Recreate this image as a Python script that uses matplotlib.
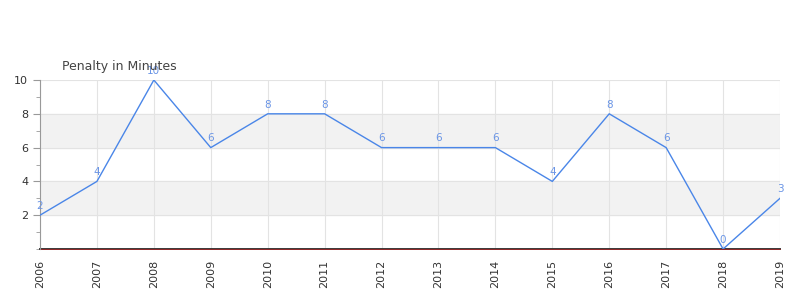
import numpy as np
import matplotlib.pyplot as plt
from matplotlib.ticker import MultipleLocator

years = [2006, 2007, 2008, 2009, 2010, 2011, 2012, 2013, 2014, 2015, 2016, 2017, 2018, 2019]
penalty = [2, 4, 10, 6, 8, 8, 6, 6, 6, 4, 8, 6, 0, 3]

line_col = '#4a86e8'
fig = plt.figure(figsize=(8, 3), dpi=100)
ax = fig.add_axes([0.05, 0.17, 0.925, 0.5633])

# alternating bands
for lo in (2, 6):
    ax.axhspan(lo, lo + 2, color='#f2f2f2', zorder=0)

ax.plot(years, penalty, color=line_col, lw=1, zorder=3)
for x, y in zip(years, penalty):
    ax.annotate(str(y), (x, y), xytext=(0, 3), textcoords='offset points',
                ha='center', va='bottom', fontsize=7.5, color='#6a95e6', zorder=4)

ax.set_xlim(years[0], years[-1])
ax.set_ylim(0, 10)
ax.set_xticks(years)
ax.set_xticklabels([str(y) for y in years], rotation=90, fontsize=8, color='#333333')
ax.set_yticks([2, 4, 6, 8, 10])
ax.yaxis.set_minor_locator(MultipleLocator(1))
ax.tick_params(axis='y', labelsize=8, colors='#333333', length=5, color='#999999')
ax.tick_params(axis='y', which='minor', length=3, color='#999999')
ax.tick_params(axis='x', length=0, pad=8)
ax.grid(True, color='#e3e3e3', lw=0.8, zorder=1)
ax.set_axisbelow(True)

for s in ('top', 'right'):
    ax.spines[s].set_visible(False)
ax.spines['left'].set_color('#999999')
ax.spines['bottom'].set_visible(False)
ax.axhline(0, color='#3a3a3a', lw=1.4, zorder=2, clip_on=False)
ax.axhline(0, color='#b22222', lw=0.5, zorder=2, clip_on=False)

fig.text(0.0775, 0.777, 'Penalty in Minutes', fontsize=9, color='#444444', ha='left', va='center')

fig.savefig('out.png', dpi=100)
